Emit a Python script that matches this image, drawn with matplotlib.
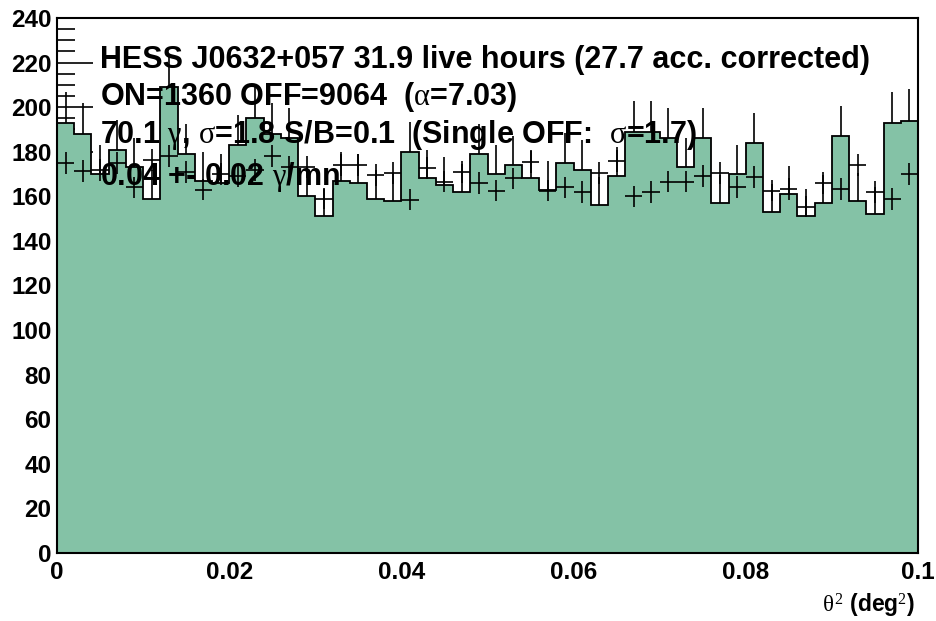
import numpy as np
import matplotlib
matplotlib.use("Agg")
import matplotlib.pyplot as plt
from matplotlib.ticker import MultipleLocator

# theta^2 bins (50 bins, 0 - 0.1 deg^2)
bin_lo = 0.0
bin_hi = 0.1
n_bins = 50

# ON counts per bin (filled histogram)
on_counts = [193, 188, 170, 181, 173, 159, 209, 179, 167, 166,
             183, 195, 188, 186, 160, 151, 167, 166, 159, 158,
             180, 168, 165, 162, 179, 170, 174, 168, 163, 175,
             172, 156, 169, 189, 189, 186, 173, 186, 157, 170,
             184, 153, 161, 151, 157, 187, 158, 152, 193, 194]

# normalised OFF (alpha scaled), drawn as crosses
off_scaled = [175.0, 171.5, 172.0, 175.0, 164.0, 176.3, 178.0, 171.0, 163.0, 170.0,
              169.0, 172.0, 178.0, 173.0, 173.0, 159.0, 174.0, 174.0, 169.6, 170.3,
              158.4, 172.6, 166.6, 171.0, 166.0, 162.5, 168.0, 175.5, 162.5, 164.0,
              162.0, 170.5, 175.7, 160.0, 162.0, 166.6, 166.6, 169.0, 170.3, 164.3,
              168.5, 162.6, 163.3, 155.4, 165.9, 163.3, 174.0, 162.0, 158.8, 170.0]

alpha = 7.03

info_lines = ["HESS J0632+057 31.9 live hours (27.7 acc. corrected)",
              r"ON=1360 OFF=9064  ($\alpha$=7.03)",
              r"70.1 $\gamma$, $\sigma$=1.8 S/B=0.1  (Single OFF:  $\sigma$=1.7)",
              r"0.04 +- 0.02 $\gamma$/mn"]

green = "#84c2a6"

plt.rcParams['font.family'] = ['Liberation Sans', 'DejaVu Sans']
# greek letters thin and upright, like the ROOT symbol font
plt.rcParams['mathtext.fontset'] = 'custom'
plt.rcParams['mathtext.rm'] = 'Liberation Serif'
plt.rcParams['mathtext.it'] = 'Liberation Serif'
plt.rcParams['mathtext.bf'] = 'Liberation Sans:bold'

fig = plt.figure(figsize=(9.37, 6.21), dpi=100)
ax = fig.add_axes([57/937, 68/621, 861/937, 535/621])

edges = np.linspace(bin_lo, bin_hi, n_bins + 1)
centers = 0.5 * (edges[:-1] + edges[1:])
width = edges[1] - edges[0]
on = np.array(on_counts, dtype=float)
off = np.array(off_scaled)

# ON errors first, the fill covers the lower half (like ROOT)
ax.errorbar(centers, on, yerr=np.sqrt(on), fmt='none', ecolor='black',
            elinewidth=1.2, capsize=0, zorder=1)
ax.stairs(on, edges, fill=True, color=green, zorder=2)
ax.stairs(on, edges, color='black', linewidth=1.3, zorder=3)

# OFF crosses
off_err = np.sqrt(off * alpha) / alpha
ax.errorbar(centers, off, xerr=width / 2, yerr=off_err, fmt='none',
            ecolor='black', elinewidth=1.2, capsize=0, zorder=4)

ax.set_xlim(bin_lo, bin_hi)
ax.set_ylim(0, 240)

ax.xaxis.set_major_locator(MultipleLocator(0.02))
ax.xaxis.set_minor_locator(MultipleLocator(0.005))
ax.yaxis.set_major_locator(MultipleLocator(20))
ax.yaxis.set_minor_locator(MultipleLocator(5))
ax.xaxis.set_major_formatter(plt.FuncFormatter(lambda v, p: "0" if v == 0 else ("%g" % round(v, 3))))

ax.tick_params(axis='both', which='both', direction='in', top=False, right=False,
               width=1.2, labelsize=17.5)
ax.tick_params(axis='y', which='major', length=26, pad=4)
ax.tick_params(axis='y', which='minor', length=13)
ax.tick_params(axis='x', which='major', length=16, pad=6)
ax.tick_params(axis='x', which='minor', length=8)
for lab in ax.get_xticklabels() + ax.get_yticklabels():
    lab.set_fontweight('bold')
for sp in ax.spines.values():
    sp.set_linewidth(1.5)
    sp.set_zorder(6)

fig.text(915/937, 1 - 606/621, r"$\theta^{2}$ (deg$^{2}$)", ha='right', va='center',
         fontsize=16.5, fontweight='bold')

ys = [0.9215, 0.8523, 0.7813, 0.7028]
for txt, yy in zip(info_lines, ys):
    ax.text(0.05, yy, txt, transform=ax.transAxes, fontsize=22,
            fontweight='bold', va='center', ha='left', zorder=10)

fig.savefig("out.png", dpi=100)
